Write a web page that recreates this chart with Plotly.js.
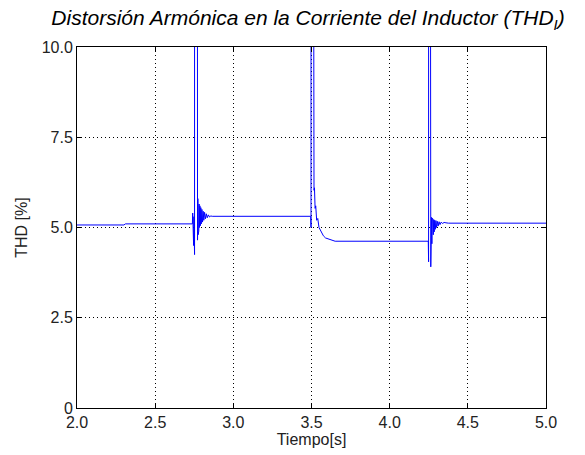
<!DOCTYPE html>
<html>
<head>
<meta charset="utf-8">
<script src="https://cdn.plot.ly/plotly-3.0.1.min.js"></script>
<style>html,body{margin:0;padding:0;background:#fff;}#chart{width:585px;height:455px;}</style>
</head>
<body>
<div id="chart"></div>
<script>
// Time [s]
const tiempo = [
  2.000, 2.300, 2.310, 2.738, 2.740, 2.742, 2.744, 2.746, 2.748, 2.750, 2.752, 2.753,
  2.766, 2.767, 2.769, 2.771, 2.773, 2.775, 2.777, 2.779, 2.781, 2.783, 2.786, 2.789,
  2.792, 2.795, 2.799, 2.803, 2.807, 2.811, 2.816, 2.821, 2.827, 2.833, 2.840, 2.848,
  2.856, 2.865,
  3.495, 3.497, 3.498, 3.512, 3.514, 3.516, 3.519, 3.523, 3.527, 3.533, 3.540, 3.548,
  3.555, 3.565, 3.576, 3.590, 3.608, 3.630, 3.651,
  4.247, 4.249, 4.250, 4.251, 4.263, 4.264, 4.266, 4.268, 4.270, 4.272, 4.274, 4.276,
  4.279, 4.282, 4.285, 4.288, 4.292, 4.296, 4.300, 4.305, 4.310, 4.316, 4.322, 4.330,
  4.338, 4.348, 4.360, 4.376, 5.000
];
// THD of inductor current [%]
const thd = [
  5.07, 5.07, 5.10, 5.10, 5.40, 4.60, 5.35, 4.50, 5.30, 4.60, 4.25, 60.0,
  60.0, 4.70, 5.90, 4.65, 5.80, 4.80, 5.70, 4.90, 5.65, 5.00, 5.60, 5.05,
  5.55, 5.10, 5.50, 5.15, 5.45, 5.20, 5.42, 5.24, 5.38, 5.27, 5.35, 5.29,
  5.32, 5.31,
  5.31, 5.00, 60.0, 60.0, 8.50, 6.03, 6.10, 5.53, 5.60, 5.20, 5.25, 5.00,
  4.93, 4.85, 4.77, 4.71, 4.68, 4.64, 4.62,
  4.62, 4.05, 60.0, 60.0, 3.91, 5.25, 4.40, 5.28, 4.55, 5.26, 4.70, 5.24,
  4.80, 5.22, 4.88, 5.20, 4.95, 5.19, 5.00, 5.17, 5.04, 5.16, 5.08, 5.15,
  5.11, 5.14, 5.13, 5.12, 5.12
];
const xTicks = [2.0, 2.5, 3.0, 3.5, 4.0, 4.5, 5.0];
const xTickText = ['2.0', '2.5', '3.0', '3.5', '4.0', '4.5', '5.0'];
const yTicks = [0, 2.5, 5.0, 7.5, 10.0];
const yTickText = ['0', '2.5', '5.0', '7.5', '10.0'];

const trace = {
  x: tiempo, y: thd, type: 'scatter', mode: 'lines',
  line: {color: '#0000ff', width: 1},
  hoverinfo: 'skip'
};

const FONT = 'Liberation Sans, Arial, sans-serif';
const axisCommon = {
  showline: true, linecolor: '#000', linewidth: 1, mirror: 'ticks',
  ticks: 'inside', ticklen: 5, tickcolor: '#000',
  showgrid: true, gridcolor: '#000', gridwidth: 1, griddash: '1px,3px',
  zeroline: false,
  tickfont: {family: FONT, size: 16, color: '#222'}
};

const layout = {
  width: 585, height: 455,
  margin: {l: 77, r: 39, t: 47, b: 47},
  paper_bgcolor: '#fff', plot_bgcolor: '#fff',
  showlegend: false,
  title: {
    text: '<i>Distorsión Armónica en la Corriente del Inductor (THD<sub>I</sub>)</i>',
    font: {family: FONT, size: 21, color: '#000'},
    x: 0.4925, xanchor: 'center', xref: 'paper',
    y: 1 - 18/455, yanchor: 'middle', yref: 'container'
  },
  xaxis: Object.assign({}, axisCommon, {
    range: [2.0, 5.0], tickvals: xTicks, ticktext: xTickText,
    title: {text: 'Tiempo[s]', standoff: 3,
      font: {family: FONT, size: 16, color: '#222'}}
  }),
  yaxis: Object.assign({}, axisCommon, {
    range: [0, 10], tickvals: yTicks, ticktext: yTickText,
    title: {text: 'THD [%]', standoff: 10,
      font: {family: FONT, size: 16, color: '#222'}}
  })
};

Plotly.newPlot('chart', [trace], layout, {displayModeBar: false, staticPlot: true});
</script>
</body>
</html>
